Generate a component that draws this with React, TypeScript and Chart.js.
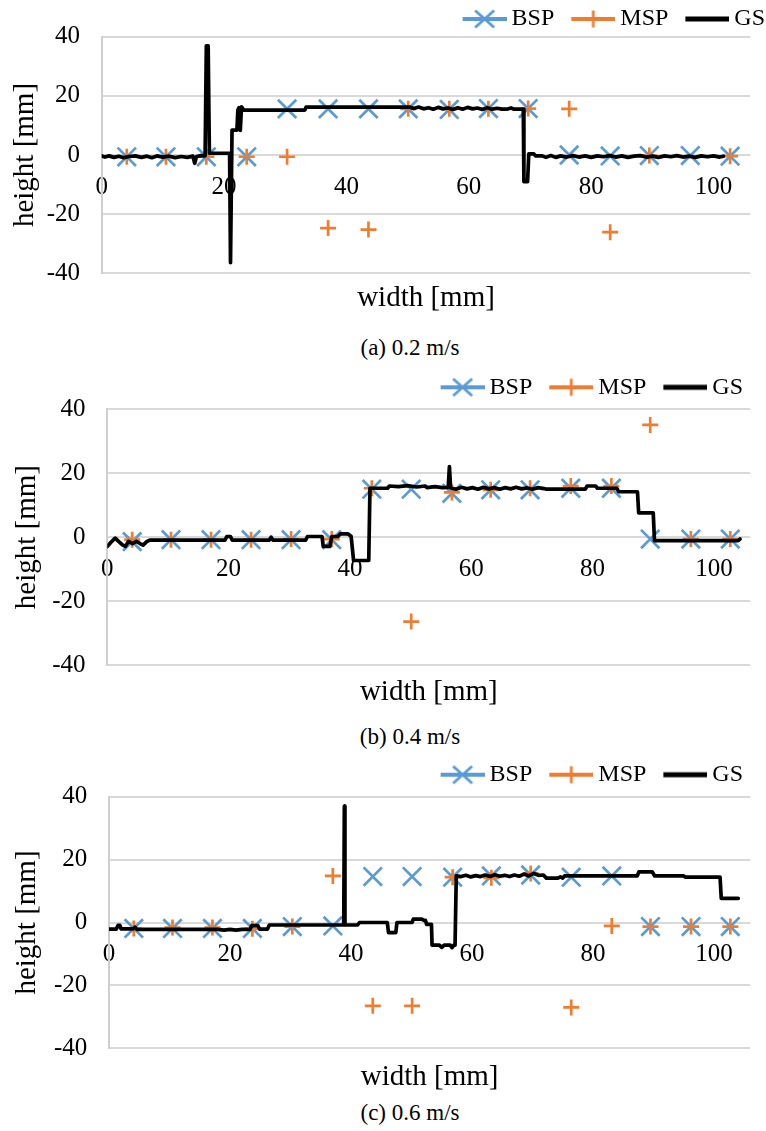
import React, { useEffect, useRef } from 'react';
import { Chart, registerables } from 'chart.js';

Chart.register(...registerables);

const FONT = "'Liberation Serif', 'Times New Roman', serif";
const BLUE = '#5B9BD5';
const ORANGE = '#ED7D31';
const GRID = '#D9D9D9';
const AXIS = '#CFCFCF';

const seriesLabels = ['BSP', 'MSP', 'GS'];
const yMin = -40;
const yMax = 40;
const yStep = 20;
const xMin = 0;
const xMax = 106;
const xStep = 20;

// sample positions along the width (mm)
const sampleX = [4.1, 10.5, 17.1, 23.7, 30.3, 37.0, 43.6, 50.1, 56.8, 63.2, 69.7, 76.4, 83.1, 89.5, 96.2, 102.7];

// (a) 0.2 m/s
const bspA = [-0.6, -0.6, -0.6, -0.6, 15.6, 15.6, 15.6, 15.6, 15.4, 15.7, 15.7, 0.0, -0.3, -0.2, -0.2, -0.4];
const mspA = [-0.6, -0.6, -0.6, -0.6, -0.6, -24.7, -25.2, 15.6, 15.6, 15.6, 15.7, 15.6, -26.1, -0.2, null, -0.4];
const gsAX = [0, 0.5, 1.2, 2.0, 2.8, 3.6, 4.5, 5.5, 6.5, 7.4, 8.2, 9.0, 10.0, 11.0, 12.0, 13.0, 14.0, 14.9, 15.2, 15.5, 16.2, 16.9,
  17.0, 17.1, 17.4, 17.6, 20.9, 21.05, 21.3, 22.1, 22.25, 22.45, 22.65, 22.85, 23.2, 33.2, 33.4, 50.3,
  51.0, 51.8, 52.6, 53.4, 54.2, 55.0, 55.8, 56.6, 57.4, 58.2, 59.0, 59.8, 60.6, 61.4, 62.2, 63.0, 63.8, 64.6, 65.4, 66.2, 66.9, 67.4, 68.9,
  69.0, 69.6, 69.8, 70.6, 70.9, 72.0, 72.6, 73.4, 74.2, 75.0, 76.0, 77.0, 78.0, 79.0, 80.0, 81.0, 82.0, 83.0, 84.0, 85.0, 86.0, 87.0,
  88.0, 89.0, 90.0, 91.0, 92.0, 93.0, 94.0, 95.0, 96.0, 97.0, 98.0, 99.0, 100.0, 101.0, 101.6];
const gsAY = [-0.3, -0.7, -0.3, -0.8, -0.4, -0.9, -0.5, -0.3, -0.8, -0.4, -0.9, -0.3, -0.7, -0.4, -0.9, -0.5, -0.8, -0.4, -2.8, -0.5, -0.2, -0.3,
  -0.3, 36.9, 36.9, 0.6, 0.6, -36.4, 8.4, 8.4, 15.2, 16.0, 8.3, 16.3, 15.2, 15.2, 16.2, 16.2,
  15.7, 16.2, 15.6, 16.0, 15.5, 16.1, 15.6, 15.9, 15.4, 16.0, 15.5, 16.1, 15.6, 15.9, 15.4, 16.0, 15.5, 15.8, 15.5, 15.5, 15.9, 15.5, 15.5,
  -9.0, -9.0, 0.4, 0.4, -0.3, -0.3, -0.8, -0.2, -0.8, -0.3, -0.7, -0.2, -0.7, -0.3, -0.8, -0.3, -0.6, -0.2, -0.7, -0.3, -0.8, -0.4,
  -0.2, -0.7, -0.4, -0.8, -0.3, -0.6, -0.2, -0.7, -0.4, -0.8, -0.3, -0.6, -0.3, -0.7, -0.4];

// (b) 0.4 m/s
const bspB = [-1.4, -0.8, -0.8, -0.8, -0.8, -0.8, 15.0, 15.0, 13.7, 14.8, 14.8, 15.3, 15.3, -0.6, -0.6, -0.6];
const mspB = [-0.8, -0.8, -0.8, -0.8, -0.6, -0.6, 15.3, -26.4, 14.0, 14.8, 15.3, 16.0, 16.0, 35.1, -0.6, -0.6];
const gsBX = [0, 0.6, 1.3, 1.9, 2.5, 3.0, 3.5, 4.2, 4.8, 5.4, 5.9, 6.5, 7.0, 19.4, 19.7, 20.3, 20.6, 26.7, 27.0, 27.3, 32.7, 33.0,
  35.4, 35.6, 36.7, 37.0, 38.0, 38.4, 39.7, 40.2, 40.6, 43.1, 43.3, 46.2, 46.5, 48.0, 49.5, 51.0, 52.4, 52.7, 54.0, 55.2, 56.2, 56.4,
  56.6, 57.5, 58.4, 59.3, 60.2, 61.1, 62.0, 62.9, 63.8, 64.7, 65.6, 66.5, 67.4, 68.3, 69.2, 70.1, 71.0, 72.0, 72.4, 78.8, 79.1, 80.5,
  80.8, 84.0, 84.3, 87.4, 87.6, 90.0, 90.2, 104.0, 104.3];
const gsBY = [-2.9, -1.6, -0.3, -1.4, -2.4, -2.9, -1.3, -2.0, -1.3, -2.0, -2.5, -1.4, -0.9, -0.9, 0.2, 0.2, -0.9, -0.9, 0.0, -0.9, -0.9, 0.2,
  0.2, -2.9, -2.9, 0.2, 0.2, 1.0, 1.0, 0.2, -7.3, -7.3, 15.3, 15.3, 16.0, 15.8, 16.1, 15.7, 16.0, 15.5, 15.8, 15.5, 15.6, 22.1,
  15.4, 15.0, 15.6, 15.1, 15.5, 15.0, 15.6, 15.1, 15.5, 15.0, 15.5, 15.1, 15.6, 15.1, 15.4, 15.0, 15.5, 15.2, 15.0, 15.0, 16.0, 16.0,
  15.3, 15.3, 14.2, 14.2, 7.6, 7.6, -1.1, -1.1, -0.6];

// (c) 0.6 m/s
const bspC = [-1.9, -1.9, -1.9, -1.9, -1.3, -1.1, 14.6, 14.6, 14.4, 14.8, 15.1, 14.4, 14.8, -1.3, -1.3, -1.3];
const mspC = [-1.9, -1.6, -1.6, -2.0, -1.3, 14.8, -26.5, -26.5, 14.4, 14.2, 15.6, -27.0, -1.1, -1.3, -1.3, -1.3];
const gsCX = [0, 1.2, 1.5, 1.8, 2.0, 4.0, 4.3, 4.6, 18.0, 19.0, 20.0, 21.0, 22.0, 23.3, 23.6, 24.6, 24.9, 26.2, 26.5, 38.8, 38.9, 39.0,
  41.1, 41.4, 46.0, 46.2, 47.4, 47.6, 50.1, 50.3, 51.7, 52.0, 52.3, 52.5, 53.3, 53.4, 54.6, 55.0, 55.4, 56.4, 56.7, 57.0, 57.2, 57.4,
  58.2, 59.0, 59.8, 60.6, 61.4, 62.2, 63.0, 63.8, 64.6, 65.4, 66.2, 67.0, 67.8, 68.6, 69.4, 70.2, 71.0, 71.8, 72.3, 74.2, 74.6, 75.0,
  75.3, 87.3, 87.6, 89.8, 90.2, 95.0, 95.3, 101.0, 101.2, 104.0];
const gsCY = [-2.1, -2.1, -0.9, -0.9, -2.0, -2.0, -1.5, -2.2, -2.2, -2.4, -2.2, -2.4, -2.2, -2.2, -1.0, -1.0, -2.1, -2.1, -0.8, -0.8, 37.0, -0.8,
  -0.8, 0.0, 0.0, -3.2, -3.2, 0.0, 0.0, 1.1, 1.1, 0.7, 0.7, -0.6, -0.6, -7.2, -7.2, -7.9, -7.2, -7.2, -8.0, -7.2, -7.2, 14.8,
  14.6, 15.0, 14.5, 14.9, 14.6, 15.1, 14.6, 15.2, 14.7, 15.0, 14.6, 15.1, 14.7, 15.4, 14.8, 15.6, 15.0, 15.1, 14.1, 14.1, 14.5, 14.1,
  14.8, 14.8, 16.1, 16.1, 14.8, 14.8, 14.4, 14.4, 7.7, 7.7];

type PanelCfg = {
  caption: string;
  bsp: (number | null)[];
  msp: (number | null)[];
  gsX: number[];
  gsY: number[];
  canvasTop: number;
  canvasHeight: number;
  chartTop: number;
  chartBottom: number;
  chartLeft: number;
  chartRight: number;
  legendGap: number;
  legendCenter: number;
  xTitleY: number;
  yTitleX: number;
  yLabelGap: number;
  captionY: number;
};

const panels: PanelCfg[] = [
  {
    caption: '(a) 0.2 m/s', bsp: bspA, msp: mspA, gsX: gsAX, gsY: gsAY,
    canvasTop: 0, canvasHeight: 313, chartTop: 35.7, chartBottom: 273.3, chartLeft: 101.7, chartRight: 760,
    legendGap: 1, legendCenter: 18, xTitleY: 298, yTitleX: 25, yLabelGap: 21.7, captionY: 348,
  },
  {
    caption: '(b) 0.4 m/s', bsp: bspB, msp: mspB, gsX: gsBX, gsY: gsBY,
    canvasTop: 352, canvasHeight: 355, chartTop: 409.3, chartBottom: 665, chartLeft: 107.3, chartRight: 760.7,
    legendGap: 23, legendCenter: 387.3, xTitleY: 692, yTitleX: 27, yLabelGap: 21.7, captionY: 737,
  },
  {
    caption: '(c) 0.6 m/s', bsp: bspC, msp: mspC, gsX: gsCX, gsY: gsCY,
    canvasTop: 739, canvasHeight: 353, chartTop: 796.7, chartBottom: 1048.3, chartLeft: 109, chartRight: 760.7,
    legendGap: 23, legendCenter: 774.7, xTitleY: 1077, yTitleX: 27, yLabelGap: 21.7, captionY: 1113,
  },
];

function makeIcon(color: string, marker: 'x' | '+' | null, d: number) {
  const half = 22;
  const w = Math.round(2 * (Math.abs(d) + half));
  const c = document.createElement('canvas');
  c.width = w;
  c.height = 24;
  const g = c.getContext('2d')!;
  const cx = w / 2 + d;
  const cy = 12;
  g.strokeStyle = color;
  g.lineCap = 'butt';
  g.lineWidth = marker ? 4 : 5;
  g.beginPath();
  g.moveTo(cx - half, cy);
  g.lineTo(cx + half, cy);
  g.stroke();
  g.lineWidth = 2.8;
  g.beginPath();
  if (marker === 'x') {
    g.moveTo(cx - 9.5, cy - 8.5);
    g.lineTo(cx + 9.5, cy + 8.5);
    g.moveTo(cx + 9.5, cy - 8.5);
    g.lineTo(cx - 9.5, cy + 8.5);
  } else if (marker === '+') {
    g.moveTo(cx - 8.5, cy);
    g.lineTo(cx + 8.5, cy);
    g.moveTo(cx, cy - 8.5);
    g.lineTo(cx, cy + 8.5);
  }
  g.stroke();
  return c;
}

function toPoints(xs: number[], ys: (number | null)[]) {
  const out: { x: number; y: number }[] = [];
  xs.forEach((x, i) => {
    const y = ys[i];
    if (y !== null && y !== undefined) out.push({ x, y });
  });
  return out;
}

function Panel({ cfg }: { cfg: PanelCfg }) {
  const ref = useRef<HTMLCanvasElement>(null);

  useEffect(() => {
    const canvas = ref.current;
    if (!canvas) return;
    const p = cfg.legendGap;
    const boxW = 54 - p;
    const d = (24 - p) / 2;
    const icons = [makeIcon(BLUE, 'x', d), makeIcon(ORANGE, '+', d), makeIcon('#000000', null, d)];
    const legendTop = cfg.legendCenter - 12 - p;
    const padTop = legendTop - cfg.canvasTop;
    const legendMaxH = cfg.chartTop - legendTop;
    const xTitleSize = 29;
    const xTitlePad = cfg.xTitleY - cfg.chartBottom - xTitleSize / 2;
    const padBottom = cfg.canvasTop + cfg.canvasHeight - (cfg.chartBottom + xTitlePad + xTitleSize);
    const rightSpace = 766 - cfg.chartRight;
    const yTitlePad = cfg.yTitleX - xTitleSize / 2;

    const chart = new Chart(canvas, {
      type: 'scatter',
      data: {
        datasets: [
          {
            label: seriesLabels[0],
            data: toPoints(sampleX, cfg.bsp),
            xAxisID: 'x',
            yAxisID: 'y',
            showLine: false,
            pointStyle: 'crossRot',
            pointRadius: 13,
            pointBorderWidth: 2.7,
            borderColor: BLUE,
            backgroundColor: BLUE,
            order: 3,
          },
          {
            label: seriesLabels[1],
            data: toPoints(sampleX, cfg.msp),
            xAxisID: 'x',
            yAxisID: 'y',
            showLine: false,
            pointStyle: 'cross',
            pointRadius: 8,
            pointBorderWidth: 2.7,
            borderColor: ORANGE,
            backgroundColor: ORANGE,
            order: 2,
          },
          {
            label: seriesLabels[2],
            data: toPoints(cfg.gsX, cfg.gsY),
            xAxisID: 'x',
            yAxisID: 'y',
            showLine: true,
            pointRadius: 0,
            borderColor: '#000000',
            backgroundColor: '#000000',
            borderWidth: 3.7,
            borderJoinStyle: 'round',
            borderCapStyle: 'round',
            tension: 0,
            order: 1,
          },
        ],
      } as any,
      options: {
        responsive: false,
        animation: false,
        devicePixelRatio: 1,
        events: [],
        layout: { padding: { left: 0, right: 0, top: padTop, bottom: padBottom } },
        scales: {
          x: {
            type: 'linear',
            min: xMin,
            max: xMax,
            position: { y: 0 } as any,
            ticks: {
              stepSize: xStep,
              includeBounds: false,
              maxRotation: 0,
              autoSkip: false,
              padding: 17,
              color: '#000',
              font: { family: FONT, size: 25 },
            },
            grid: { display: false, drawTicks: false },
            border: { display: false },
            afterFit: (s: any) => {
              s.height = 0;
            },
          } as any,
          y: {
            type: 'linear',
            position: 'left',
            min: yMin,
            max: yMax,
            ticks: {
              stepSize: yStep,
              padding: cfg.yLabelGap,
              color: '#000',
              font: { family: FONT, size: 25 },
            },
            grid: { color: GRID, lineWidth: 2, drawTicks: false },
            border: { display: true, color: AXIS, width: 2 },
            title: {
              display: true,
              text: 'height [mm]',
              color: '#000',
              font: { family: FONT, size: xTitleSize, lineHeight: 1 },
              padding: { top: yTitlePad, bottom: 0 },
            },
            afterFit: (s: any) => {
              s.width = cfg.chartLeft;
            },
          } as any,
          pad: {
            type: 'linear',
            position: 'right',
            display: true,
            grid: { display: false, drawTicks: false },
            ticks: { display: false },
            border: { display: false },
            afterFit: (s: any) => {
              s.width = rightSpace;
            },
          } as any,
        },
        plugins: {
          legend: {
            display: true,
            position: 'top',
            align: 'end',
            maxHeight: legendMaxH,
            labels: {
              usePointStyle: true,
              pointStyleWidth: boxW,
              padding: p,
              color: '#000',
              font: { family: FONT, size: 24 },
              generateLabels: (ch: any) =>
                ch.data.datasets.map((ds: any, i: number) => ({
                  text: ds.label,
                  pointStyle: icons[i],
                  fillStyle: 'rgba(0,0,0,0)',
                  strokeStyle: 'rgba(0,0,0,0)',
                  lineWidth: 0,
                  hidden: false,
                  datasetIndex: i,
                  fontColor: '#000',
                })),
            },
          },
          title: {
            display: true,
            position: 'bottom',
            fullSize: false,
            text: 'width [mm]',
            color: '#000',
            font: { family: FONT, size: xTitleSize, weight: 'normal', lineHeight: 1 },
            padding: { top: xTitlePad, bottom: 0 },
          },
          tooltip: { enabled: false },
        },
      } as any,
    });
    return () => chart.destroy();
  }, [cfg]);

  return (
    <canvas
      ref={ref}
      width={766}
      height={cfg.canvasHeight}
      style={{ position: 'absolute', left: 0, top: cfg.canvasTop, width: 766, height: cfg.canvasHeight }}
    />
  );
}

export default function App() {
  return (
    <div
      style={{
        position: 'absolute',
        left: 0,
        top: 0,
        width: 766,
        height: 1131,
        overflow: 'hidden',
        background: '#ffffff',
      }}
    >
      {panels.map((cfg) => (
        <React.Fragment key={cfg.caption}>
          <Panel cfg={cfg} />
          <div
            style={{
              position: 'absolute',
              left: 210,
              width: 400,
              top: cfg.captionY - 12,
              height: 24,
              lineHeight: '24px',
              textAlign: 'center',
              fontFamily: FONT,
              fontSize: 23,
              color: '#000',
            }}
          >
            {cfg.caption}
          </div>
        </React.Fragment>
      ))}
    </div>
  );
}
